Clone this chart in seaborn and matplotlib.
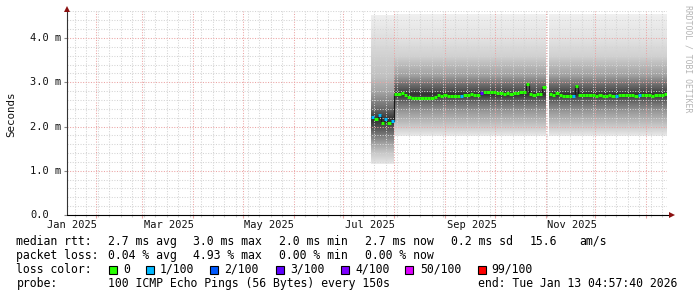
import numpy as np
import pandas as pd
import matplotlib
matplotlib.use("Agg")
import matplotlib.pyplot as plt
import matplotlib.dates as mdates
import matplotlib.ticker as mticker
import matplotlib.transforms as mtransforms
from matplotlib.patches import Rectangle
import seaborn as sns

# ---------------- data ----------------
bin_start = "2025-07-18"          # first 2-day bin with data
bin_days = 2
median_ms = [
    # Jul 18 .. Jul 30
    2.22, 2.16, 2.25, 2.09, 2.18, 2.07, 2.12,
    # Aug 1 ..
    2.73, 2.74, 2.76, 2.72,
    2.66, 2.64, 2.64, 2.65, 2.64, 2.65, 2.64, 2.65, 2.66,
    2.71, 2.70, 2.72,
    2.70, 2.69, 2.70, 2.69, 2.70,
    2.72, 2.71, 2.73, 2.72, 2.71,
    2.75, 2.77, 2.78, 2.77, 2.78, 2.76,
    2.75, 2.74, 2.76, 2.74, 2.76, 2.75,
    2.78, 2.79,
    2.95,
    2.73, 2.72, 2.74, 2.73,
    2.90,
    np.nan,
    2.74, 2.72, 2.75, 2.71, 2.70,
    2.70, 2.69, 2.70,
    2.91,
    2.72, 2.71, 2.72, 2.71, 2.71, 2.70, 2.71, 2.70, 2.70, 2.71,
    2.70, 2.69, 2.71, 2.71, 2.72, 2.71, 2.71, 2.70, 2.71, 2.72,
    2.71, 2.71, 2.70, 2.71, 2.71, 2.72, 2.73,
]
loss_pct = [0] * len(median_ms)
for i, v in [(0, 1), (2, 1), (4, 1), (6, 1), (27, 1), (33, 3), (61, 1), (74, 1), (81, 1)]:
    loss_pct[i] = v

# smoke: distribution of the 100 pings (cumulative fraction -> ms)
smoke_change = "2025-08-01"
early_F = [0, .03, .105, .21, .38, .5, .663, .79, .874, .947, 1.0]
early_ms = [1.15, 1.18, 1.40, 1.63, 1.92, 2.15, 2.44, 2.76, 3.12, 3.90, 4.52]
late_F = [0, .03, .08, .17, .22, .32, .5, .6, .79, .92, .97, 1.0]
late_ms = [1.78, 1.82, 1.95, 2.18, 2.32, 2.50, 2.73, 2.86, 3.15, 3.60, 4.05, 4.55]

loss_levels = [0, 1, 2, 3, 4, 50, 99]
loss_labels = ["0", "1/100", "2/100", "3/100", "4/100", "50/100", "99/100"]
loss_colors = ["#26ff00", "#00b8ff", "#0059ff", "#5e00ff", "#7e00ff", "#dd00ff", "#ff0000"]

y_ticks = [0, 1, 2, 3, 4]
y_ticklabels = ["0.0", "1.0 m", "2.0 m", "3.0 m", "4.0 m"]
x_label_months = ["2025-01-01", "2025-03-01", "2025-05-01", "2025-07-01", "2025-09-01", "2025-11-01"]
x_label_texts = ["Jan 2025", "Mar 2025", "May 2025", "Jul 2025", "Sep 2025", "Nov 2025"]
x_start, x_end = "2025-01-14 09:00", "2026-01-13 18:00"
y_top = 4.61

rtt_line = ["median rtt:", "2.7 ms avg", "3.0 ms max", "2.0 ms min", "2.7 ms now", "0.2 ms sd", "15.6", "am/s"]
loss_line = ["packet loss:", "0.04 % avg", "4.93 % max", "0.00 % min", "0.00 % now"]
probe_text = "100 ICMP Echo Pings (56 Bytes) every 150s"
end_text = "end: Tue Jan 13 04:57:40 2026"

# ---------------- figure ----------------
W, H = 697, 297
sns.set_theme(style="white")
plt.rcParams["font.family"] = ["DejaVu Sans Mono", "DejaVu Sans"]
fig = plt.figure(figsize=(W / 100, H / 100), dpi=100)
fig.patch.set_facecolor("white")
ax = fig.add_axes([67 / W, (H - 215) / H, 600 / W, (y_top * 44.25) / H])
ax.set_facecolor("white")

t = pd.date_range(bin_start, periods=len(median_ms), freq=f"{bin_days}D")
df = pd.DataFrame({"t": t, "median": median_ms, "loss": loss_pct})
df["run"] = df["median"].isna().cumsum()

# median thin dark connector line
d2 = df.dropna().copy()
sns.lineplot(data=d2, x="t", y="median", units="run", estimator=None, color="#1a1a1a",
             lw=0.9, drawstyle="steps-post", ax=ax, zorder=4, legend=False)

# smoke image
ny = 600
yy = np.linspace(0, y_top, ny + 1)
yc = 0.5 * (yy[:-1] + yy[1:])
img = np.zeros((ny, len(df), 4))
for j, row in df.iterrows():
    if np.isnan(row["median"]):
        continue
    if row["t"] < pd.Timestamp(smoke_change):
        Fs, Ms = early_F, early_ms
    else:
        Fs, Ms = late_F, late_ms
    inside = (yc >= Ms[0]) & (yc <= Ms[-1])
    F = np.interp(yc, Ms, Fs)
    d = np.minimum(F, 1 - F)
    g = (50 + 190 * (1 - 2 * d)) / 255.0
    img[inside, j, 0] = g[inside]
    img[inside, j, 1] = g[inside]
    img[inside, j, 2] = g[inside]
    img[inside, j, 3] = 1.0
x0 = mdates.date2num(t[0])
x1 = mdates.date2num(t[-1] + pd.Timedelta(days=bin_days))
ax.imshow(img, extent=[x0, x1, 0, y_top], origin="lower", aspect="auto",
          interpolation="nearest", zorder=1)

# colored median segments by loss
def bucket(v):
    idx = 0
    for k, lv in enumerate(loss_levels):
        if v >= lv:
            idx = k
    return idx

tn = mdates.date2num(d2["t"])
te = tn + bin_days
b = np.array([bucket(v) for v in d2["loss"]])
for k, c in enumerate(loss_colors):
    m = b == k
    if m.any():
        ax.hlines(d2["median"].values[m], tn[m], te[m], colors=c, lw=2.2, zorder=5)

# axes limits & grid
ax.set_xlim(pd.Timestamp(x_start), pd.Timestamp(x_end))
ax.set_ylim(0, y_top)
ax.xaxis.set_major_locator(mdates.MonthLocator())
ax.xaxis.set_minor_locator(mdates.WeekdayLocator(byweekday=mdates.SU))
ax.yaxis.set_major_locator(mticker.FixedLocator(y_ticks))
ax.yaxis.set_minor_locator(mticker.MultipleLocator(0.2))
ax.set_axisbelow(False)
ax.grid(which="major", color="#eba4a4", lw=0.75, ls=(0, (1, 1.5)))
ax.grid(which="minor", color="#d4d4d4", lw=0.75, ls=(0, (1, 1.5)))
ax.tick_params(axis="x", which="major", length=2.5, width=0.8, color="#eba4a4",
               labelbottom=False, bottom=True, direction="out")
ax.tick_params(axis="x", which="minor", length=1.5, width=0.8, color="#cccccc",
               labelbottom=False, bottom=True, direction="out")
ax.tick_params(axis="y", which="major", length=2.5, width=0.8, color="#888888",
               labelleft=False, left=True, direction="out")
ax.tick_params(axis="y", which="minor", length=0, labelleft=False)
ax.set_xlabel("")
ax.set_ylabel("")
for s in ax.spines.values():
    s.set_visible(False)

# axis lines with arrows
ax.plot([0, 0], [0, 1.005], transform=ax.transAxes, color="#333333", lw=0.8,
        clip_on=False, zorder=6)
ax.plot([0, 1.006], [0, 0], transform=ax.transAxes, color="#000000", lw=0.8,
        clip_on=False, zorder=6)
ax.plot([0], [1.01], transform=ax.transAxes, marker="^", ms=4, color="#8b1010",
        clip_on=False, zorder=7, markeredgewidth=0)
ax.plot([1.009], [0], transform=ax.transAxes, marker=">", ms=4, color="#8b1010",
        clip_on=False, zorder=7, markeredgewidth=0)

# y tick labels (left aligned column)
ytr = mtransforms.blended_transform_factory(fig.transFigure, ax.transData)
for v, lab in zip(y_ticks, y_ticklabels):
    fig.text(30 / W, v, lab, transform=ytr, ha="left", va="center", fontsize=7.5, color="#111111")

# x labels at month starts (left aligned)
xtr = mtransforms.blended_transform_factory(ax.transData, fig.transFigure)
for d, lab in zip(x_label_months, x_label_texts):
    ax.text(mdates.date2num(pd.Timestamp(d)) + 1, 1 - 225 / H, lab, transform=xtr,
            ha="left", va="center", fontsize=7.5, color="#111111", clip_on=False)

fig.text(11 / W, 1 - 114 / H, "Seconds", rotation=90, ha="center", va="center",
         fontsize=7.8, color="#111111")
fig.text(688 / W, 1 - 5 / H, "RRDTOOL / TOBI OETIKER", rotation=270, ha="center",
         va="top", fontsize=5.9, color="#b4b4b4")

# legend / stats block
fs = 8.3
rtt_x = [16.5, 108, 193, 279, 365, 451, 530, 579]
for x, s in zip(rtt_x, rtt_line):
    fig.text(x / W, 1 - 241.5 / H, s, ha="left", va="center", fontsize=fs, color="black")
loss_x = [16.5, 108, 193, 279, 365]
for x, s in zip(loss_x, loss_line):
    fig.text(x / W, 1 - 255.5 / H, s, ha="left", va="center", fontsize=fs, color="black")
fig.text(16.5 / W, 1 - 269.5 / H, "loss color:", ha="left", va="center", fontsize=fs, color="black")
box_x = [108.9, 145.8, 210.2, 275.6, 340.9, 405.3, 477.8]
lab_x = [123.6, 160, 224.4, 289.8, 355.6, 420, 491.1]
for bx, lx, c, lab in zip(box_x, lab_x, loss_colors, loss_labels):
    fig.patches.append(Rectangle((bx / W, 1 - 273.5 / H), 8 / W, 8 / H, transform=fig.transFigure,
                                 facecolor=c, edgecolor="black", lw=0.8, figure=fig))
    fig.text(lx / W, 1 - 269.5 / H, lab, ha="left", va="center", fontsize=fs, color="black")
fig.text(16.5 / W, 1 - 283.5 / H, "probe:", ha="left", va="center", fontsize=fs, color="black")
fig.text(108 / W, 1 - 283.5 / H, probe_text, ha="left", va="center", fontsize=fs, color="black")
fig.text(478 / W, 1 - 283.5 / H, end_text, ha="left", va="center", fontsize=fs, color="black")

fig.savefig("out.png", dpi=100, facecolor="white")
